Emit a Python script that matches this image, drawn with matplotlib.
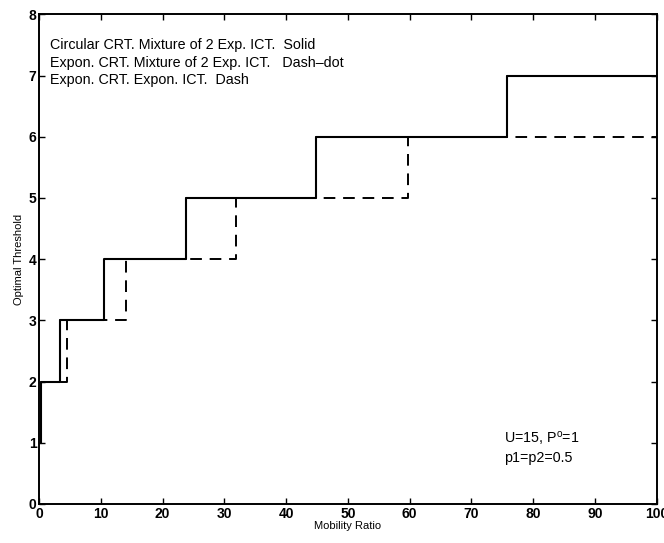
import matplotlib
matplotlib.use("Agg")
import matplotlib.pyplot as plt

# breakpoints of the optimal threshold (stairs, held until next x)
solid_x = [0.3, 0.3, 3.4, 10.5, 23.7, 44.9, 75.7, 100]
solid_y = [1, 2, 3, 4, 5, 6, 7, 7]
dashdot_x = [0.3, 0.3, 3.4, 10.5, 23.7, 44.9, 75.7, 100]
dashdot_y = [1, 2, 3, 4, 5, 6, 7, 7]
dash_x = [0.3, 4.45, 14.1, 31.8, 59.8, 100]
dash_y = [2, 3, 4, 5, 6, 6]

legend_lines = [
    "Circular CRT. Mixture of 2 Exp. ICT.  Solid",
    "Expon. CRT. Mixture of 2 Exp. ICT.   Dash\u2013dot",
    "Expon. CRT. Expon. ICT.  Dash",
]
param_lines = ["U=15, P$^{\\rm o}$=1", "p1=p2=0.5"]

plt.rcParams["font.family"] = ["Liberation Sans", "DejaVu Sans"]
plt.rcParams["mathtext.fontset"] = "custom"
plt.rcParams["mathtext.rm"] = "Liberation Sans"

fig = plt.figure(figsize=(6.64, 5.43), dpi=100)
ax = fig.add_axes([0.059, 0.072, 0.930, 0.9015])

ax.step(solid_x, solid_y, where="post", color="black", linewidth=1.5)
ax.step(dashdot_x, dashdot_y, where="post", color="black", linewidth=1.3, linestyle="-.")
ax.step(dash_x, dash_y, where="post", color="black", linewidth=1.4, dashes=(6, 4))

ax.set_xlim(0, 100)
ax.set_ylim(0, 8)
ax.set_xticks(range(0, 101, 10))
ax.set_yticks(range(0, 9))
ax.tick_params(direction="in", top=True, right=True, length=4, width=1,
               labelsize=10, pad=2)
for lab in ax.get_xticklabels() + ax.get_yticklabels():
    lab.set_fontweight("bold")
for sp in ax.spines.values():
    sp.set_linewidth(1.4)

ax.set_xlabel("Mobility Ratio", fontsize=8, labelpad=0)
ax.set_ylabel("Optimal Threshold", fontsize=8, labelpad=3)

for i, txt in enumerate(legend_lines):
    ax.text(1.7, 7.5 - i * 0.29, txt, fontsize=10.3, va="center", ha="left")
for i, txt in enumerate(param_lines):
    ax.text(75.2, 1.08 - i * 0.33, txt, fontsize=10.3, va="center", ha="left")

fig.savefig("out.png", dpi=100)
